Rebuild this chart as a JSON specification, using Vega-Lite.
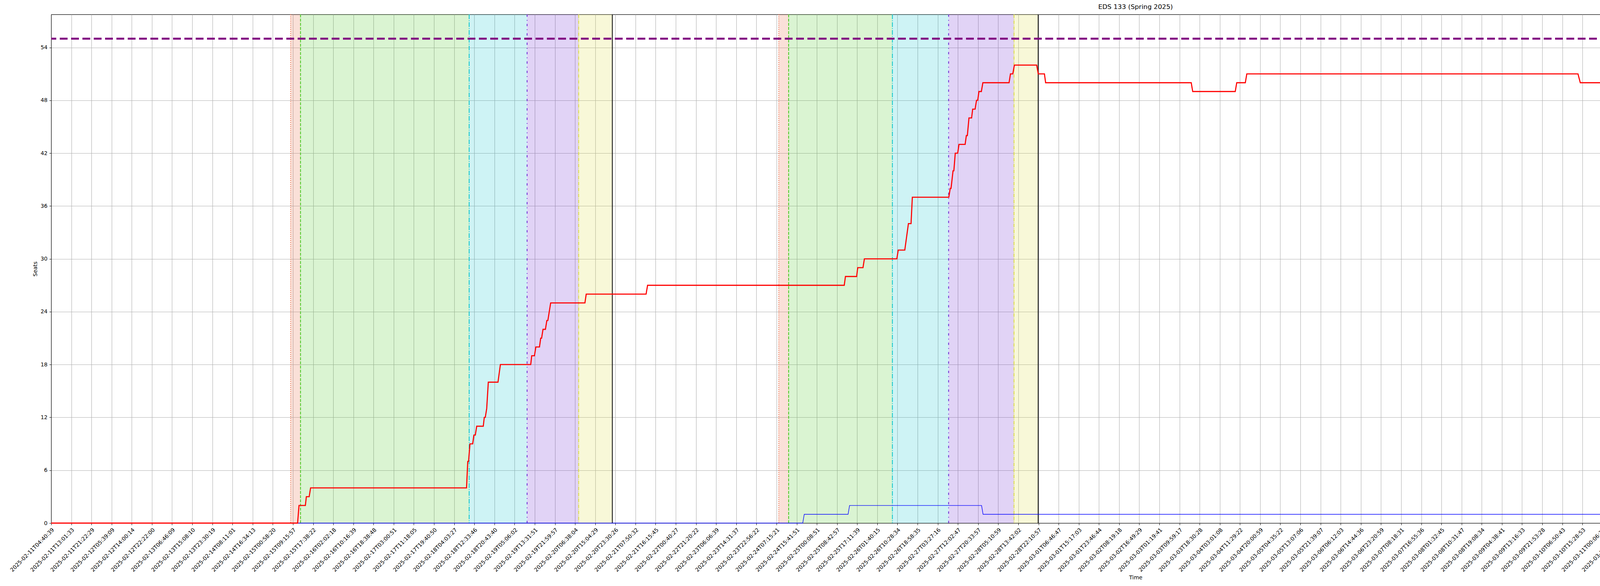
{
"$schema": "https://vega.github.io/schema/vega-lite/v6.json",
"width": 5552, "height": 1302,
"autosize": {"type": "none"},
"padding": {"left": 131, "top": 37, "right": 317, "bottom": 161},
"background": "white",
"title": {"text": "EDS 133 (Spring 2025)", "font": "DejaVu Sans", "fontSize": 16.7, "fontWeight": "normal", "color": "black", "anchor": "middle", "frame": "group", "offset": -8, "baseline": "bottom"},
"config": {
  "font": "DejaVu Sans",
  "view": {"stroke": "black", "strokeWidth": 1.1},
  "axis": {"labelFont": "DejaVu Sans", "labelFontSize": 13.9, "labelColor": "black", "titleFont": "DejaVu Sans", "titleFontSize": 13.9, "titleFontWeight": "normal", "titleColor": "black", "domainColor": "black", "domainWidth": 1.1, "tickColor": "black", "tickWidth": 1.1, "tickSize": 4.9, "gridColor": "#b0b0b0", "gridWidth": 1.1, "gridOpacity": 1}
},
"datasets": {
  "phases": [
    {"series": "Priority Enrollment", "start": 23.77, "end": 24.75},
    {"series": "Senior Enrollment", "start": 24.75, "end": 41.49},
    {"series": "Junior Enrollment", "start": 41.49, "end": 47.24},
    {"series": "Sophomore Enrollment", "start": 47.24, "end": 52.36},
    {"series": "Freshmen Enrollment", "start": 52.36, "end": 55.70},
    {"series": "Priority Enrollment", "start": 72.22, "end": 73.20},
    {"series": "Senior Enrollment", "start": 73.20, "end": 83.50},
    {"series": "Junior Enrollment", "start": 83.50, "end": 89.08},
    {"series": "Sophomore Enrollment", "start": 89.08, "end": 95.57},
    {"series": "Freshmen Enrollment", "start": 95.57, "end": 97.97}
  ],
  "starts": [
    {"series": "Priorities Start", "t": 23.77},
    {"series": "Seniors Start", "t": 24.75},
    {"series": "Juniors Start", "t": 41.49},
    {"series": "Sophomores Start", "t": 47.24},
    {"series": "Freshmen Start", "t": 52.36},
    {"series": "End", "t": 55.70},
    {"series": "Priorities Start", "t": 72.22},
    {"series": "Seniors Start", "t": 73.20},
    {"series": "Juniors Start", "t": 83.50},
    {"series": "Sophomores Start", "t": 89.08},
    {"series": "Freshmen Start", "t": 95.57},
    {"series": "End", "t": 97.97}
  ],
  "total": [{"series": "Total Seats", "v": 55}],
  "waitlisted": [
    {"series": "Waitlisted", "t": 0, "v": 0},
    {"series": "Waitlisted", "t": 74.6, "v": 0},
    {"series": "Waitlisted", "t": 74.75, "v": 1},
    {"series": "Waitlisted", "t": 79.1, "v": 1},
    {"series": "Waitlisted", "t": 79.25, "v": 2},
    {"series": "Waitlisted", "t": 92.35, "v": 2},
    {"series": "Waitlisted", "t": 92.5, "v": 1},
    {"series": "Waitlisted", "t": 215.27, "v": 1}
  ],
  "enrolled": [
    {"series": "Enrolled", "t": 0, "v": 0},
    {"series": "Enrolled", "t": 24.46, "v": 0},
    {"series": "Enrolled", "t": 24.60, "v": 2},
    {"series": "Enrolled", "t": 25.23, "v": 2},
    {"series": "Enrolled", "t": 25.33, "v": 3},
    {"series": "Enrolled", "t": 25.61, "v": 3},
    {"series": "Enrolled", "t": 25.75, "v": 4},
    {"series": "Enrolled", "t": 41.23, "v": 4},
    {"series": "Enrolled", "t": 41.35, "v": 7},
    {"series": "Enrolled", "t": 41.43, "v": 7},
    {"series": "Enrolled", "t": 41.57, "v": 9},
    {"series": "Enrolled", "t": 41.84, "v": 9},
    {"series": "Enrolled", "t": 41.96, "v": 10},
    {"series": "Enrolled", "t": 42.10, "v": 10},
    {"series": "Enrolled", "t": 42.24, "v": 11},
    {"series": "Enrolled", "t": 42.89, "v": 11},
    {"series": "Enrolled", "t": 42.99, "v": 12},
    {"series": "Enrolled", "t": 43.09, "v": 12},
    {"series": "Enrolled", "t": 43.23, "v": 13},
    {"series": "Enrolled", "t": 43.39, "v": 16},
    {"series": "Enrolled", "t": 44.35, "v": 16},
    {"series": "Enrolled", "t": 44.59, "v": 18},
    {"series": "Enrolled", "t": 47.60, "v": 18},
    {"series": "Enrolled", "t": 47.70, "v": 19},
    {"series": "Enrolled", "t": 47.97, "v": 19},
    {"series": "Enrolled", "t": 48.11, "v": 20},
    {"series": "Enrolled", "t": 48.47, "v": 20},
    {"series": "Enrolled", "t": 48.59, "v": 21},
    {"series": "Enrolled", "t": 48.68, "v": 21},
    {"series": "Enrolled", "t": 48.82, "v": 22},
    {"series": "Enrolled", "t": 49.06, "v": 22},
    {"series": "Enrolled", "t": 49.20, "v": 23},
    {"series": "Enrolled", "t": 49.30, "v": 23},
    {"series": "Enrolled", "t": 49.58, "v": 25},
    {"series": "Enrolled", "t": 52.98, "v": 25},
    {"series": "Enrolled", "t": 53.11, "v": 26},
    {"series": "Enrolled", "t": 59.05, "v": 26},
    {"series": "Enrolled", "t": 59.20, "v": 27},
    {"series": "Enrolled", "t": 78.72, "v": 27},
    {"series": "Enrolled", "t": 78.84, "v": 28},
    {"series": "Enrolled", "t": 79.95, "v": 28},
    {"series": "Enrolled", "t": 80.06, "v": 29},
    {"series": "Enrolled", "t": 80.58, "v": 29},
    {"series": "Enrolled", "t": 80.72, "v": 30},
    {"series": "Enrolled", "t": 83.94, "v": 30},
    {"series": "Enrolled", "t": 84.08, "v": 31},
    {"series": "Enrolled", "t": 84.73, "v": 31},
    {"series": "Enrolled", "t": 85.09, "v": 34},
    {"series": "Enrolled", "t": 85.35, "v": 34},
    {"series": "Enrolled", "t": 85.48, "v": 37},
    {"series": "Enrolled", "t": 89.10, "v": 37},
    {"series": "Enrolled", "t": 89.24, "v": 38},
    {"series": "Enrolled", "t": 89.32, "v": 38},
    {"series": "Enrolled", "t": 89.52, "v": 40},
    {"series": "Enrolled", "t": 89.60, "v": 40},
    {"series": "Enrolled", "t": 89.74, "v": 42},
    {"series": "Enrolled", "t": 89.98, "v": 42},
    {"series": "Enrolled", "t": 90.11, "v": 43},
    {"series": "Enrolled", "t": 90.72, "v": 43},
    {"series": "Enrolled", "t": 90.84, "v": 44},
    {"series": "Enrolled", "t": 90.94, "v": 44},
    {"series": "Enrolled", "t": 91.10, "v": 46},
    {"series": "Enrolled", "t": 91.36, "v": 46},
    {"series": "Enrolled", "t": 91.47, "v": 47},
    {"series": "Enrolled", "t": 91.71, "v": 47},
    {"series": "Enrolled", "t": 91.85, "v": 48},
    {"series": "Enrolled", "t": 91.97, "v": 48},
    {"series": "Enrolled", "t": 92.09, "v": 49},
    {"series": "Enrolled", "t": 92.33, "v": 49},
    {"series": "Enrolled", "t": 92.48, "v": 50},
    {"series": "Enrolled", "t": 95.08, "v": 50},
    {"series": "Enrolled", "t": 95.22, "v": 51},
    {"series": "Enrolled", "t": 95.45, "v": 51},
    {"series": "Enrolled", "t": 95.61, "v": 52},
    {"series": "Enrolled", "t": 97.82, "v": 52},
    {"series": "Enrolled", "t": 97.98, "v": 51},
    {"series": "Enrolled", "t": 98.59, "v": 51},
    {"series": "Enrolled", "t": 98.71, "v": 50},
    {"series": "Enrolled", "t": 113.16, "v": 50},
    {"series": "Enrolled", "t": 113.31, "v": 49},
    {"series": "Enrolled", "t": 117.53, "v": 49},
    {"series": "Enrolled", "t": 117.68, "v": 50},
    {"series": "Enrolled", "t": 118.53, "v": 50},
    {"series": "Enrolled", "t": 118.68, "v": 51},
    {"series": "Enrolled", "t": 151.55, "v": 51},
    {"series": "Enrolled", "t": 151.78, "v": 50},
    {"series": "Enrolled", "t": 156.84, "v": 50},
    {"series": "Enrolled", "t": 156.99, "v": 51},
    {"series": "Enrolled", "t": 168.33, "v": 51},
    {"series": "Enrolled", "t": 168.64, "v": 54},
    {"series": "Enrolled", "t": 173.09, "v": 54},
    {"series": "Enrolled", "t": 173.39, "v": 53},
    {"series": "Enrolled", "t": 192.24, "v": 53},
    {"series": "Enrolled", "t": 192.47, "v": 54},
    {"series": "Enrolled", "t": 195.77, "v": 54},
    {"series": "Enrolled", "t": 196.00, "v": 53},
    {"series": "Enrolled", "t": 215.27, "v": 53}
  ]
},
"layer": [
  {
    "data": {"name": "phases"},
    "mark": {"type": "rect", "fillOpacity": 0.2, "strokeWidth": 0},
    "encoding": {
      "x": {"field": "start", "type": "quantitative",
        "scale": {"domain": [0, 215.27], "nice": false, "zero": false},
        "axis": {"title": "Time", "grid": true,
          "values": [0,1,2,3,4,5,6,7,8,9,10,11,12,13,14,15,16,17,18,19,20,21,22,23,24,25,26,27,28,29,30,31,32,33,34,35,36,37,38,39,40,41,42,43,44,45,46,47,48,49,50,51,52,53,54,55,56,57,58,59,60,61,62,63,64,65,66,67,68,69,70,71,72,73,74,75,76,77,78,79,80,81,82,83,84,85,86,87,88,89,90,91,92,93,94,95,96,97,98,99,100,101,102,103,104,105,106,107,108,109,110,111,112,113,114,115,116,117,118,119,120,121,122,123,124,125,126,127,128,129,130,131,132,133,134,135,136,137,138,139,140,141,142,143,144,145,146,147,148,149,150,151,152,153,154,155,156,157,158,159,160,161,162,163,164,165,166,167,168,169,170,171,172,173,174,175,176,177,178,179,180,181,182,183,184,185,186,187,188,189,190,191,192,193,194,195,196,197,198,199,200,201,202,203,204,205,206,207,208,209,210,211,212,213,214,215],
          "labelExpr": "['2025-02-11T04:40:39','2025-02-11T08:51:00','2025-02-11T13:01:33','2025-02-11T17:12:11','2025-02-11T21:22:29','2025-02-12T01:33:08','2025-02-12T05:39:09','2025-02-12T09:49:32','2025-02-12T14:00:14','2025-02-12T18:11:31','2025-02-12T22:22:00','2025-02-13T02:32:57','2025-02-13T06:46:09','2025-02-13T10:56:52','2025-02-13T15:08:10','2025-02-13T19:19:12','2025-02-13T23:30:19','2025-02-14T03:41:46','2025-02-14T08:11:01','2025-02-14T12:22:52','2025-02-14T16:34:13','2025-02-14T20:45:13','2025-02-15T00:58:20','2025-02-15T05:04:35','2025-02-15T09:15:57','2025-02-15T13:27:15','2025-02-15T17:38:22','2025-02-15T21:49:32','2025-02-16T02:02:18','2025-02-16T06:04:48','2025-02-16T10:16:39','2025-02-16T14:27:45','2025-02-16T18:38:48','2025-02-16T22:49:46','2025-02-17T03:00:51','2025-02-17T07:07:00','2025-02-17T11:18:05','2025-02-17T15:29:28','2025-02-17T19:40:50','2025-02-17T23:52:01','2025-02-18T04:03:27','2025-02-18T08:21:21','2025-02-18T12:33:46','2025-02-18T16:47:19','2025-02-18T20:43:40','2025-02-19T00:56:45','2025-02-19T05:06:02','2025-02-19T09:18:09','2025-02-19T13:31:51','2025-02-19T17:46:57','2025-02-19T21:59:57','2025-02-20T02:12:34','2025-02-20T06:38:04','2025-02-20T10:50:49','2025-02-20T15:04:29','2025-02-20T19:17:51','2025-02-20T23:30:26','2025-02-21T03:42:56','2025-02-21T07:50:32','2025-02-21T12:03:05','2025-02-21T16:15:45','2025-02-21T20:28:00','2025-02-22T00:40:27','2025-02-22T17:08:14','2025-02-22T21:20:22','2025-02-23T01:32:43','2025-02-23T06:06:39','2025-02-23T10:19:09','2025-02-23T14:31:37','2025-02-23T18:43:49','2025-02-23T22:56:22','2025-02-24T03:10:09','2025-02-24T07:15:21','2025-02-24T11:27:59','2025-02-24T15:41:51','2025-02-24T19:55:30','2025-02-25T00:08:51','2025-02-25T04:29:18','2025-02-25T08:42:57','2025-02-25T12:57:03','2025-02-25T17:11:39','2025-02-25T21:26:06','2025-02-26T01:40:15','2025-02-26T06:14:39','2025-02-26T10:28:34','2025-02-26T14:43:21','2025-02-26T18:58:35','2025-02-26T23:12:58','2025-02-27T03:27:16','2025-02-27T07:48:09','2025-02-27T12:02:47','2025-02-27T16:18:20','2025-02-27T20:33:57','2025-02-28T00:49:03','2025-02-28T05:10:59','2025-02-28T09:26:05','2025-02-28T13:42:02','2025-02-28T17:55:57','2025-02-28T22:10:57','2025-03-01T02:26:18','2025-03-01T06:46:47','2025-03-01T11:02:02','2025-03-01T15:17:03','2025-03-01T19:32:01','2025-03-01T23:46:44','2025-03-02T04:02:07','2025-03-02T08:19:18','2025-03-02T12:34:32','2025-03-02T16:49:29','2025-03-02T21:04:31','2025-03-03T01:19:41','2025-03-03T05:43:56','2025-03-03T09:59:17','2025-03-03T14:14:55','2025-03-03T18:30:28','2025-03-03T22:45:42','2025-03-04T03:01:08','2025-03-04T07:13:41','2025-03-04T11:29:22','2025-03-04T15:45:20','2025-03-04T20:00:59','2025-03-05T00:16:34','2025-03-05T04:35:22','2025-03-05T08:51:09','2025-03-05T13:07:06','2025-03-05T17:23:21','2025-03-05T21:39:07','2025-03-06T01:55:04','2025-03-06T06:12:03','2025-03-06T10:28:10','2025-03-06T14:44:36','2025-03-06T19:02:41','2025-03-06T23:20:59','2025-03-07T03:39:32','2025-03-07T08:18:31','2025-03-07T12:36:57','2025-03-07T16:55:36','2025-03-07T21:13:58','2025-03-08T01:32:45','2025-03-08T06:13:10','2025-03-08T10:31:47','2025-03-08T14:50:12','2025-03-08T19:08:34','2025-03-08T23:26:49','2025-03-09T04:38:41','2025-03-09T08:57:47','2025-03-09T13:16:33','2025-03-09T17:34:53','2025-03-09T21:53:28','2025-03-10T02:12:20','2025-03-10T06:50:43','2025-03-10T11:09:45','2025-03-10T15:28:53','2025-03-10T19:47:42','2025-03-11T00:06:36','2025-03-11T04:33:32','2025-03-11T08:52:54','2025-03-11T13:11:41','2025-03-11T17:30:52','2025-03-11T21:49:45','2025-03-12T02:09:50','2025-03-12T06:42:51','2025-03-12T11:01:33','2025-03-12T15:21:03','2025-03-12T19:40:19','2025-03-12T23:59:21','2025-03-13T04:40:27','2025-03-13T09:00:23','2025-03-13T13:19:36','2025-03-13T17:38:53','2025-03-13T21:58:06','2025-03-14T02:17:32','2025-03-14T06:50:12','2025-03-14T11:09:22','2025-03-14T15:28:42','2025-03-14T19:48:08','2025-03-15T00:07:40','2025-03-15T04:45:08','2025-03-15T09:04:59','2025-03-15T13:24:29','2025-03-15T17:44:02','2025-03-15T22:03:19','2025-03-16T02:35:31','2025-03-16T07:17:05','2025-03-16T11:36:18','2025-03-16T15:55:46','2025-03-16T20:14:56','2025-03-17T00:34:47','2025-03-17T05:12:43','2025-03-17T09:32:16','2025-03-17T13:52:29','2025-03-17T18:12:31','2025-03-17T22:32:02','2025-03-18T02:52:02','2025-03-18T07:16:02','2025-03-18T11:36:20','2025-03-18T15:57:24','2025-03-18T20:17:33','2025-03-19T00:37:53','2025-03-19T05:06:24','2025-03-19T09:26:26','2025-03-19T13:46:45','2025-03-19T18:07:20','2025-03-19T22:27:33','2025-03-20T02:48:01','2025-03-20T07:13:38','2025-03-20T11:34:00','2025-03-20T15:55:03','2025-03-20T20:15:19','2025-03-21T00:35:53','2025-03-21T05:01:46','2025-03-21T09:22:27','2025-03-21T13:43:10','2025-03-21T18:03:52','2025-03-21T22:24:32','2025-03-22T02:45:25'][datum.value]",
          "labelAngle": -45, "labelAlign": "right", "labelBaseline": "top",
          "labelOverlap": false, "labelBound": false, "labelFlush": false, "labelLimit": 400,
          "labelPadding": 5, "titlePadding": 6}},
      "x2": {"field": "end"},
      "fill": {"field": "series", "type": "nominal",
        "scale": {
          "domain": ["Priority Enrollment", "Senior Enrollment", "Junior Enrollment", "Sophomore Enrollment", "Freshmen Enrollment"],
          "range": ["#e8643c", "#44c81e", "#08c4cc", "#6a22d4", "#dcdc3c"]
        },
        "legend": {
          "title": " ", "titleOrient": "top", "titleFontSize": 10, "titlePadding": 178,
          "orient": "none", "legendX": 5660, "legendY": 0, "padding": 4,
          "strokeColor": "#cccccc", "cornerRadius": 4, "fillColor": "white",
          "symbolType": "M-1,-0.65H3V0.65H-1Z", "symbolSize": 210, "symbolOpacity": 0.25, "symbolStrokeWidth": 0,
          "rowPadding": 6.5, "labelOffset": 25.5, "labelLimit": 400,
          "labelFont": "DejaVu Sans", "labelFontSize": 13.9, "labelColor": "black"
        }
      }
    }
  },
  {
    "data": {"name": "starts"},
    "mark": {"type": "rule", "strokeWidth": 2},
    "encoding": {
      "x": {"field": "t", "type": "quantitative"},
      "color": {"field": "series", "type": "nominal",
        "scale": {
          "domain": ["Total Seats", "Waitlisted", "Enrolled", "Priorities Start", "Seniors Start", "Juniors Start", "Sophomores Start", "Freshmen Start", "End"],
          "range": ["#800080", "#0000ff", "#ff0000", "#e8643c", "#44c81e", "#08c4cc", "#6a22d4", "#dcdc3c", "#000000"]
        },
        "legend": {
          "title": null, "orient": "none", "legendX": 5660, "legendY": 0, "padding": 4,
          "symbolType": "M-1,0H3", "symbolSize": 210, "symbolStrokeWidth": 2,
          "rowPadding": 5, "labelOffset": 23.5, "labelLimit": 400,
          "labelFont": "DejaVu Sans", "labelFontSize": 13.9, "labelColor": "black"
        }
      },
      "strokeDash": {"field": "series", "type": "nominal",
        "scale": {
          "domain": ["Total Seats", "Waitlisted", "Enrolled", "Priorities Start", "Seniors Start", "Juniors Start", "Sophomores Start", "Freshmen Start", "End"],
          "range": [[20, 9], [1, 0], [1, 0], [2, 3.3], [7.5, 3.2], [12, 3, 2, 3], [6, 8, 2, 8], [9, 2.4, 1.5, 2.4], [1, 0]]
        },
        "legend": {
          "title": null, "orient": "none", "legendX": 5660, "legendY": 0, "padding": 4,
          "symbolType": "M-1,0H3", "symbolSize": 210, "symbolStrokeWidth": 2,
          "rowPadding": 5, "labelOffset": 23.5, "labelLimit": 400,
          "labelFont": "DejaVu Sans", "labelFontSize": 13.9, "labelColor": "black"
        }
      }
    }
  },
  {
    "data": {"name": "total"},
    "mark": {"type": "rule", "strokeWidth": 5},
    "encoding": {
      "y": {"field": "v", "type": "quantitative",
        "scale": {"domain": [0, 57.75], "nice": false, "zero": false},
        "axis": {"title": "Seats", "grid": true, "values": [0, 6, 12, 18, 24, 30, 36, 42, 48, 54], "labelPadding": 5, "titlePadding": 6}},
      "color": {"field": "series", "type": "nominal"},
      "strokeDash": {"field": "series", "type": "nominal"}
    }
  },
  {
    "data": {"name": "waitlisted"},
    "mark": {"type": "line", "strokeWidth": 1.4},
    "encoding": {
      "x": {"field": "t", "type": "quantitative"},
      "y": {"field": "v", "type": "quantitative"},
      "color": {"field": "series", "type": "nominal"},
      "strokeDash": {"field": "series", "type": "nominal"}
    }
  },
  {
    "data": {"name": "enrolled"},
    "mark": {"type": "line", "strokeWidth": 2.8},
    "encoding": {
      "x": {"field": "t", "type": "quantitative"},
      "y": {"field": "v", "type": "quantitative"},
      "color": {"field": "series", "type": "nominal"},
      "strokeDash": {"field": "series", "type": "nominal"}
    }
  }
]
}
